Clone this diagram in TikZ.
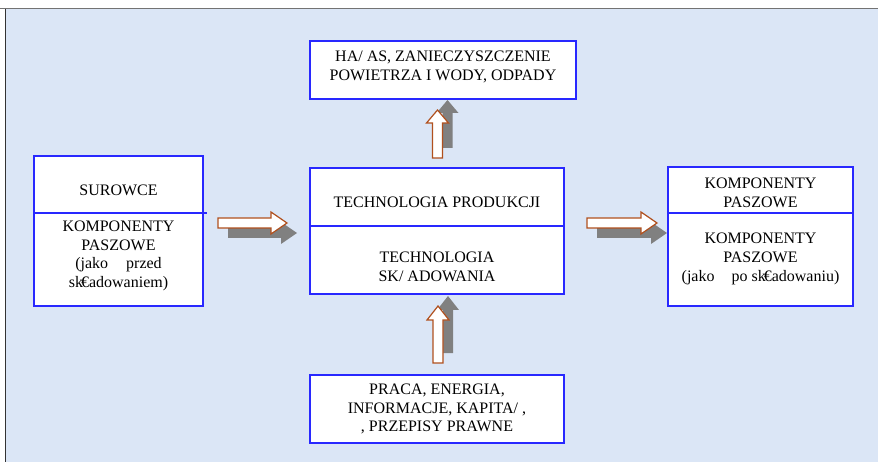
\documentclass[tikz,border=0pt]{standalone}
\usepackage{fontspec}
\setmainfont{Liberation Serif}
\usetikzlibrary{positioning}
\definecolor{framebg}{RGB}{219,230,246}
\definecolor{boxblue}{RGB}{40,40,255}
\definecolor{arrbrown}{RGB}{176,80,30}
\definecolor{arrshade}{RGB}{128,128,128}

\begin{document}
\begin{tikzpicture}[x=1pt, y=-1pt,
      part/.style={draw=boxblue, line width=1.3pt, fill=white,
                   inner sep=0pt, outer sep=0pt},
      txt/.style={align=center, inner sep=0pt,
                  font=\fontsize{16}{18.8}\selectfont},
      pics/blockarr/.style args={#1/#2}{code={
        \fill[arrshade, shift={(10,10)}] (0,-5) -- (#1-#2,-5) -- (#1-#2,-11)
          -- (#1,0) -- (#1-#2,11) -- (#1-#2,5) -- (0,5) -- cycle;
        \filldraw[fill=white, draw=arrbrown, line width=1.2pt] (0,-5)
          -- (#1-#2,-5) -- (#1-#2,-11) -- (#1,0) -- (#1-#2,11)
          -- (#1-#2,5) -- (0,5) -- cycle;
      }}
  ]
    \useasboundingbox (0,0) rectangle (878,462);
    \fill[framebg] (6,9) rectangle (878,462);
    \draw[black!55, line width=1.5pt] (0,8.5) -- (878,8.5);
    \draw[black!80, line width=1.3pt] (5.8,9) -- (5.8,462);

    % boxes
    \node[part, minimum width=266, minimum height=58] (emis) at (443,70) {};
    \node[part, minimum width=169, minimum height=57] (sur) at (118.5,184.5) {};
    \node[part, minimum width=169, minimum height=93, below=0pt of sur] (kpl) {};
    \draw[boxblue, line width=1.3pt] (sur.south east) -- ++(4,0);
    \node[part, minimum width=254, minimum height=58] (techp) at (437,197) {};
    \node[part, minimum width=254, minimum height=68, below=0pt of techp] (techs) {};
    \node[part, minimum width=185, minimum height=46] (kpr) at (760.5,190) {};
    \node[part, minimum width=185, minimum height=93, below=0pt of kpr] (kpp) {};
    \node[part, minimum width=254, minimum height=68] (wej) at (437,409) {};

    % texts
    \node[txt] (emisT) at (443,67) {HA/ AS, ZANIECZYSZCZENIE\\POWIETRZA I WODY, ODPADY};
    \node[txt] (surT) at (118.5,190) {SUROWCE};
    \node[txt] (kplT) at (118.5,256) {KOMPONENTY\\PASZOWE\\(jako\hspace{18pt}przed\\sk\kern-2pt€adowaniem)};
    \node[txt] (techpT) at (437,202) {TECHNOLOGIA PRODUKCJI};
    \node[txt] (techsT) at (437,267) {TECHNOLOGIA\\SK/ ADOWANIA};
    \node[txt] (kprT) at (760.5,192.5) {KOMPONENTY\\PASZOWE};
    \node[txt] (kppT) at (760.5,259) {KOMPONENTY\\PASZOWE\\(jako\hspace{17pt}po sk\kern-2pt€adowaniu)};
    \node[txt] (wejT) at (437,409) {PRACA, ENERGIA,\\INFORMACJE, KAPITA/ ,\\, PRZEPISY PRAWNE};

    % block arrows
    \pic at (218,223) {blockarr=69/16};
    \pic at (587,223) {blockarr=70/16};
    \pic[rotate=90] at (437.5,158) {blockarr=48/13};
    \pic[rotate=90] at (438,363) {blockarr=57/14};
  \end{tikzpicture}
\end{document}
